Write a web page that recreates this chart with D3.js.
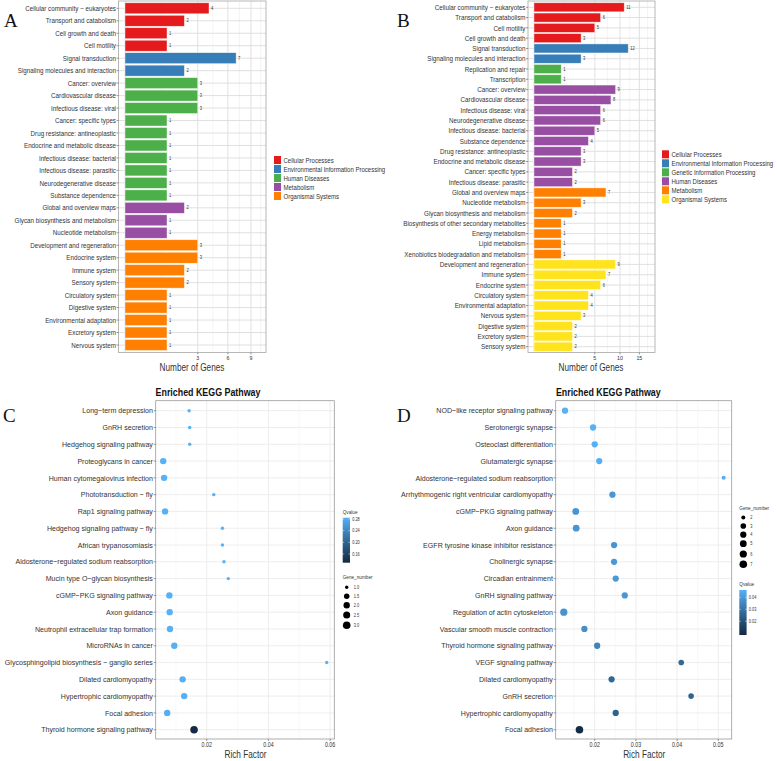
<!DOCTYPE html>
<html><head><meta charset="utf-8">
<script src="https://cdn.jsdelivr.net/npm/d3@7"></script>
<style>body{margin:0;background:#fff} svg{display:block}</style>
</head><body>
<svg id="chart" width="777" height="761"></svg>
<script>
// ---------------- DATA ----------------
const groupsA = ["Cellular Processes","Environmental Information Processing","Human Diseases","Metabolism","Organismal Systems"];
const colorsA = ["#E41A1C","#377EB8","#4DAF4A","#984EA3","#FF7F00"];
const catA = ["Cellular community − eukaryotes","Transport and catabolism","Cell growth and death","Cell motility",
  "Signal transduction","Signaling molecules and interaction",
  "Cancer: overview","Cardiovascular disease","Infectious disease: viral","Cancer: specific types","Drug resistance: antineoplastic",
  "Endocrine and metabolic disease","Infectious disease: bacterial","Infectious disease: parasitic","Neurodegenerative disease","Substance dependence",
  "Global and overview maps","Glycan biosynthesis and metabolism","Nucleotide metabolism",
  "Development and regeneration","Endocrine system","Immune system","Sensory system","Circulatory system","Digestive system",
  "Environmental adaptation","Excretory system","Nervous system"];
const valA = [4,2,1,1, 7,2, 3,3,3,1,1,1,1,1,1,1, 2,1,1, 3,3,2,2,1,1,1,1,1];
const grpA = [0,0,0,0, 1,1, 2,2,2,2,2,2,2,2,2,2, 3,3,3, 4,4,4,4,4,4,4,4,4];
const ticksA = [3,6,9];

const groupsB = ["Cellular Processes","Environmental Information Processing","Genetic Information Processing","Human Diseases","Metabolism","Organismal Systems"];
const colorsB = ["#E41A1C","#377EB8","#4DAF4A","#984EA3","#FF7F00","#FFE31C"];
const catB = ["Cellular community − eukaryotes","Transport and catabolism","Cell motility","Cell growth and death",
  "Signal transduction","Signaling molecules and interaction",
  "Replication and repair","Transcription",
  "Cancer: overview","Cardiovascular disease","Infectious disease: viral","Neurodegenerative disease","Infectious disease: bacterial",
  "Substance dependence","Drug resistance: antineoplastic","Endocrine and metabolic disease","Cancer: specific types","Infectious disease: parasitic",
  "Global and overview maps","Nucleotide metabolism","Glycan biosynthesis and metabolism","Biosynthesis of other secondary metabolites",
  "Energy metabolism","Lipid metabolism","Xenobiotics biodegradation and metabolism",
  "Development and regeneration","Immune system","Endocrine system","Circulatory system","Environmental adaptation","Nervous system",
  "Digestive system","Excretory system","Sensory system"];
const valB = [11,6,5,3, 12,3, 1,1, 9,8,6,6,5,4,3,3,2,2, 7,3,2,1,1,1,1, 9,7,6,4,4,3,2,2,2];
const grpB = [0,0,0,0, 1,1, 2,2, 3,3,3,3,3,3,3,3,3,3, 4,4,4,4,4,4,4, 5,5,5,5,5,5,5,5,5];
const ticksB = [5,10,15];

const catC = ["Long−term depression","GnRH secretion","Hedgehog signaling pathway","Proteoglycans in cancer","Human cytomegalovirus infection",
  "Phototransduction − fly","Rap1 signaling pathway","Hedgehog signaling pathway − fly","African trypanosomiasis","Aldosterone−regulated sodium reabsorption",
  "Mucin type O−glycan biosynthesis","cGMP−PKG signaling pathway","Axon guidance","Neutrophil extracellular trap formation","MicroRNAs in cancer",
  "Glycosphingolipid biosynthesis − ganglio series","Dilated cardiomyopathy","Hypertrophic cardiomyopathy","Focal adhesion","Thyroid hormone signaling pathway"];
const richC = [0.0143,0.0145,0.0145,0.0059,0.0062,0.0223,0.0065,0.0251,0.0251,0.0256,0.0270,0.0079,0.0080,0.0081,0.0095,0.0589,0.0122,0.0127,0.0072,0.0159];
const geneC = [1,1,1,2,2,1,2,1,1,1,1,2,2,2,2,1,2,2,2,3];
const qC = [0.284,0.284,0.284,0.284,0.284,0.284,0.284,0.284,0.284,0.284,0.284,0.284,0.284,0.284,0.283,0.284,0.282,0.282,0.282,0.131];
const ticksC = [0.02,0.04,0.06];
const qTicksC = [0.16,0.20,0.24,0.28];
const geneLegC = [1.0,1.5,2.0,2.5,3.0];

const catD = ["NOD−like receptor signaling pathway","Serotonergic synapse","Osteoclast differentiation","Glutamatergic synapse",
  "Aldosterone−regulated sodium reabsorption","Arrhythmogenic right ventricular cardiomyopathy","cGMP−PKG signaling pathway","Axon guidance",
  "EGFR tyrosine kinase inhibitor resistance","Cholinergic synapse","Circadian entrainment","GnRH signaling pathway","Regulation of actin cytoskeleton",
  "Vascular smooth muscle contraction","Thyroid hormone signaling pathway","VEGF signaling pathway","Dilated cardiomyopathy","GnRH secretion",
  "Hypertrophic cardiomyopathy","Focal adhesion"];
const richD = [0.0128,0.0196,0.0200,0.0211,0.0513,0.0243,0.0154,0.0155,0.0247,0.0247,0.0251,0.0273,0.0125,0.0175,0.0206,0.0410,0.0241,0.0434,0.0251,0.0163];
const geneD = [4,4,4,4,2,4,5,5,4,4,4,4,6,4,4,3,4,3,4,7];
const qD = [0.0461,0.0460,0.0458,0.0455,0.0452,0.0395,0.0390,0.0390,0.0385,0.0400,0.0400,0.0395,0.0385,0.0370,0.0345,0.0270,0.0265,0.0255,0.0250,0.0090];
const ticksD = [0.02,0.03,0.04,0.05];
const qTicksD = [0.02,0.03,0.04];
const geneLegD = [2,3,4,5,6,7];

// ---------------- DRAWING ----------------
const SANS = '"Liberation Sans",Arial,Helvetica,sans-serif';
const SERIF = '"Liberation Serif","Times New Roman",serif';
const TXT = "#333";
const svg = d3.select("#chart");

// horizontal compression ratio for a text style, so that a sample string gets a target width
function ratioFor(sample, size, weight, target) {
  const t = svg.append("text").text(sample).attr("font-family", SANS).attr("font-size", size).attr("font-weight", weight);
  const w = t.node().getComputedTextLength();
  t.remove();
  return target / w;
}
const R = {
  labAB: ratioFor("Cellular community − eukaryotes", 7, "normal", 91),
  leg: ratioFor("Environmental Information Processing", 7, "normal", 102),
  labCD: ratioFor("Arrhythmogenic right ventricular cardiomyopathy", 8, "normal", 152),
  axt: ratioFor("Number of Genes", 10.5, "normal", 65),
  title: ratioFor("Enriched KEGG Pathway", 10.5, "bold", 105),
  small: 0.85
};

function txt(g, x, y, s, size, opts={}) {
  const t = g.append("text").text(s)
    .attr("font-family", opts.family || SANS).attr("font-size", size)
    .attr("fill", opts.fill || TXT).attr("text-anchor", opts.anchor || "start")
    .attr("font-weight", opts.weight || "normal")
    .attr("dominant-baseline", opts.baseline || "auto");
  if (opts.ratio) t.attr("x", 0).attr("y", 0).attr("transform", `translate(${x},${y}) scale(${opts.ratio},1)`);
  else t.attr("x", x).attr("y", y);
  return t;
}

function barPanel(cats, vals, grps, colors, groups, L, ticks) {
  const g = svg.append("g");
  const y = d3.scalePoint().domain(cats).range([L.y0, L.y1]);
  const step = y.step();
  const x = d3.scaleSqrt().domain([0, L.dmax]).range([L.x0, L.x1]);
  // grid
  const majors = [0, ...ticks, ticks[ticks.length-1] + (ticks[1]-ticks[0])];
  const minors = d3.pairs(majors).map(([a,b]) => Math.pow((Math.sqrt(a)+Math.sqrt(b))/2, 2));
  minors.forEach(v => { const xx = x(v); if (xx > L.pl && xx < L.pr)
    g.append("line").attr("x1", xx).attr("x2", xx).attr("y1", L.pt).attr("y2", L.pb).attr("stroke", "#ececec").attr("stroke-width", 0.6); });
  majors.forEach(v => { const xx = x(v); if (xx > L.pl && xx < L.pr)
    g.append("line").attr("x1", xx).attr("x2", xx).attr("y1", L.pt).attr("y2", L.pb).attr("stroke", "#dcdcdc").attr("stroke-width", 0.9); });
  cats.forEach(c => g.append("line").attr("x1", L.pl).attr("x2", L.pr).attr("y1", y(c)).attr("y2", y(c)).attr("stroke", "#dcdcdc").attr("stroke-width", 0.9));
  // bars
  const bh = step * 0.88;
  g.selectAll("rect.bar").data(cats).join("rect").attr("class","bar")
    .attr("x", x(0)).attr("y", c => y(c) - bh/2)
    .attr("width", (c,i) => x(vals[i]) - x(0)).attr("height", bh)
    .attr("fill", (c,i) => colors[grps[i]]).attr("stroke", "rgba(255,255,255,0.7)").attr("stroke-width", 0.6);
  cats.forEach((c,i) => txt(g, x(vals[i]) + 2, y(c), vals[i], 4.8, {baseline: "central", ratio: R.small}));
  // border
  g.append("rect").attr("x", L.pl).attr("y", L.pt).attr("width", L.pr - L.pl).attr("height", L.pb - L.pt)
    .attr("fill", "none").attr("stroke", "#a6a6a6").attr("stroke-width", 0.8);
  // y axis
  cats.forEach(c => {
    g.append("line").attr("x1", L.pl - 2).attr("x2", L.pl).attr("y1", y(c)).attr("y2", y(c)).attr("stroke", "#555").attr("stroke-width", 0.6);
    txt(g, L.pl - 2.5, y(c), c, 7, {anchor: "end", baseline: "central", ratio: R.labAB});
  });
  // x axis
  ticks.forEach(t => {
    g.append("line").attr("x1", x(t)).attr("x2", x(t)).attr("y1", L.pb).attr("y2", L.pb + 2).attr("stroke", "#555").attr("stroke-width", 0.6);
    txt(g, x(t), L.pb + 7.5, t, 6.2, {anchor: "middle", ratio: R.small});
  });
  txt(g, L.xlab, 370.5, "Number of Genes", 10.5, {anchor: "middle", ratio: R.axt});
  // legend
  groups.forEach((gname, i) => {
    const yy = L.legY + i * 9;
    g.append("rect").attr("x", L.legX).attr("y", yy - 4).attr("width", 7).attr("height", 8).attr("fill", colors[i]);
    txt(g, L.legX + 9.5, yy, gname, 7, {baseline: "central", ratio: R.leg});
  });
  txt(g, L.letterX, 27, L.letter, 19, {family: SERIF, fill: "#111"});
}

barPanel(catA, valA, grpA, colorsA, groupsA,
  {y0: 8.3, y1: 345, x0: 125, x1: 251, dmax: 9, pl: 118.5, pr: 266, pt: 1, pb: 352.5,
   xlab: 192, legX: 274, legY: 160, letter: "A", letterX: 4}, ticksA);
barPanel(catB, valB, grpB, colorsB, groupsB,
  {y0: 7.3, y1: 346.7, x0: 534, x1: 642.8, dmax: 16, pl: 528, pr: 655, pt: 1, pb: 352.5,
   xlab: 591, legX: 662, legY: 154.3, letter: "B", letterX: 397}, ticksB);

const qColor = (dom) => d3.scaleLinear().domain(dom).range(["#132B43", "#56B1F7"]).interpolate(d3.interpolateLab);

function dotPanel(cats, rich, genes, qs, L, ticks, qTicks, geneLeg) {
  const g = svg.append("g");
  const y = d3.scalePoint().domain(cats).range([410.7, 729.7]);
  const x = d3.scaleLinear().domain(L.xd).range(L.xr);
  const gMin = d3.min(genes), gMax = d3.max(genes);
  const r = v => L.rMin + (L.rMax - L.rMin) * Math.sqrt((v - gMin) / (gMax - gMin));
  const col = qColor(L.qd);
  const pt = 400.7, pb = 739;
  // grid
  const minorStep = (ticks[1] - ticks[0]) / 2;
  const minors = d3.range(ticks[0] - minorStep, ticks[ticks.length-1] + minorStep * 1.01, minorStep * 2);
  minors.forEach(v => { const xx = x(v); if (xx > L.pl && xx < L.pr)
    g.append("line").attr("x1", xx).attr("x2", xx).attr("y1", pt).attr("y2", pb).attr("stroke", "#f3f3f3").attr("stroke-width", 0.6); });
  ticks.forEach(v => { const xx = x(v);
    g.append("line").attr("x1", xx).attr("x2", xx).attr("y1", pt).attr("y2", pb).attr("stroke", "#ebebeb").attr("stroke-width", 0.9); });
  cats.forEach(c => g.append("line").attr("x1", L.pl).attr("x2", L.pr).attr("y1", y(c)).attr("y2", y(c)).attr("stroke", "#ebebeb").attr("stroke-width", 0.9));
  // points
  g.selectAll("circle.pt").data(cats).join("circle").attr("class", "pt")
    .attr("cx", (c,i) => x(rich[i])).attr("cy", c => y(c)).attr("r", (c,i) => r(genes[i]))
    .attr("fill", (c,i) => col(qs[i]));
  g.append("rect").attr("x", L.pl).attr("y", pt).attr("width", L.pr - L.pl).attr("height", pb - pt)
    .attr("fill", "none").attr("stroke", "#9a9a9a").attr("stroke-width", 0.8);
  // axes
  cats.forEach(c => {
    g.append("line").attr("x1", L.pl - 2).attr("x2", L.pl).attr("y1", y(c)).attr("y2", y(c)).attr("stroke", "#555").attr("stroke-width", 0.6);
    txt(g, L.pl - 2.8, y(c), c, 8, {anchor: "end", baseline: "central", ratio: R.labCD});
  });
  ticks.forEach(t => {
    g.append("line").attr("x1", x(t)).attr("x2", x(t)).attr("y1", pb).attr("y2", pb + 2).attr("stroke", "#555").attr("stroke-width", 0.6);
    txt(g, x(t), 746.5, d3.format(".2f")(t), 6.3, {anchor: "middle", ratio: R.small});
  });
  txt(g, (L.pl + L.pr) / 2 + 0.5, 758, "Rich Factor", 10.5, {anchor: "middle", ratio: R.axt});
  txt(g, L.titleX, 395.5, "Enriched KEGG Pathway", 10.5, {anchor: "middle", weight: "bold", fill: "#111", ratio: R.title});
  txt(g, L.letterX, 422, L.letter, 19, {family: SERIF, fill: "#111"});
  // Qvalue colorbar
  const qb = L.qbar;
  const gid = "grad" + L.letter;
  const grad = svg.append("defs").append("linearGradient").attr("id", gid).attr("x1", 0).attr("x2", 0).attr("y1", 1).attr("y2", 0);
  d3.range(0, 1.0001, 0.1).forEach(t => grad.append("stop").attr("offset", t).attr("stop-color", col(L.qd[0] + t * (L.qd[1] - L.qd[0]))));
  txt(g, qb.x, qb.y0 - 4, "Qvalue", 5.5, {ratio: R.small});
  g.append("rect").attr("x", qb.x).attr("y", qb.y0).attr("width", 7.3).attr("height", qb.y1 - qb.y0).attr("fill", `url(#${gid})`);
  const qy = d3.scaleLinear().domain(L.qd).range([qb.y1, qb.y0]);
  qTicks.forEach(t => {
    g.append("line").attr("x1", qb.x).attr("x2", qb.x + 1.5).attr("y1", qy(t)).attr("y2", qy(t)).attr("stroke", "#fff").attr("stroke-width", 0.5);
    g.append("line").attr("x1", qb.x + 5.8).attr("x2", qb.x + 7.3).attr("y1", qy(t)).attr("y2", qy(t)).attr("stroke", "#fff").attr("stroke-width", 0.5);
    txt(g, qb.x + 9.5, qy(t), d3.format(".2f")(t), 4.6, {baseline: "central", ratio: R.small});
  });
  // Gene_number legend
  const gl = L.gleg;
  txt(g, gl.x - 4, gl.ys[0] - 8, "Gene_number", 5.5, {ratio: R.small});
  geneLeg.forEach((v, i) => {
    g.append("circle").attr("cx", gl.x).attr("cy", gl.ys[i]).attr("r", r(v)).attr("fill", "#000");
    txt(g, gl.x + 7, gl.ys[i], L.legFmt(v), 4.6, {baseline: "central", ratio: R.small});
  });
}

dotPanel(catC, richC, geneC, qC,
  {xd: [0, 0.06], xr: [145, 330.1], pl: 155.7, pr: 334.3, qd: [0.130, 0.2845], rMin: 1.7, rMax: 3.8,
   letter: "C", letterX: 3, titleX: 208,
   qbar: {x: 342.7, y0: 517.7, y1: 562.7},
   gleg: {x: 346.7, ys: [587.3, 596.3, 605.3, 615, 625.3]}, legFmt: d3.format(".1f")},
  ticksC, qTicksC, geneLegC);

dotPanel(catD, richD, geneD, qD,
  {xd: [0.02, 0.05], xr: [594.7, 718.3], pl: 555.7, pr: 731.7, qd: [0.0086, 0.0461], rMin: 2.0, rMax: 3.8,
   letter: "D", letterX: 397, titleX: 608.3,
   qbar: {x: 739.3, y0: 590, y1: 635},
   gleg: {x: 743.3, ys: [517.5, 526, 534.7, 543.7, 554, 564.3]}, legFmt: d3.format("d")},
  ticksD, qTicksD, geneLegD);
</script>
</body></html>
